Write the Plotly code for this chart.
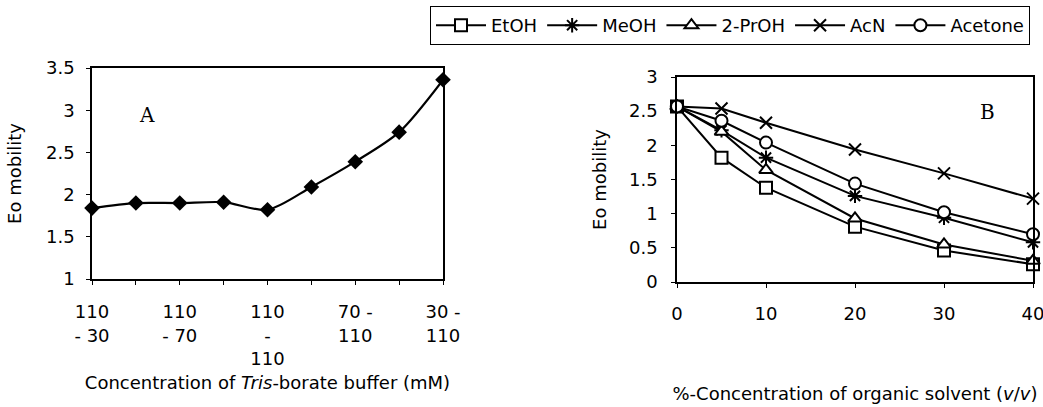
import plotly.graph_objects as go

# ---------------- data ----------------
# Panel A: Tris-borate buffer concentrations (mM)
buffer_categories = ["110 - 30", "110 - 50", "110 - 70", "110 - 90", "110 - 110",
                     "90 - 110", "70 - 110", "50 - 110", "30 - 110"]
buffer_ticktext = ["110<br>- 30", "", "110<br>- 70", "", "110<br>-<br>110",
                   "", "70 -<br>110", "", "30 -<br>110"]
eo_mobility_A = [1.84, 1.90, 1.90, 1.91, 1.82, 2.09, 2.39, 2.74, 3.36]

# Panel B: organic solvent concentration (% v/v)
solvent_pct = [0, 5, 10, 20, 30, 40]
solvent_ticks = [0, 10, 20, 30, 40]
etoh = [2.57, 1.82, 1.38, 0.81, 0.46, 0.26]
meoh = [2.57, 2.22, 1.82, 1.26, 0.94, 0.58]
proh = [2.57, 2.20, 1.64, 0.93, 0.55, 0.31]
acn = [2.57, 2.54, 2.33, 1.94, 1.59, 1.22]
acetone = [2.57, 2.36, 2.04, 1.44, 1.02, 0.70]

series_B = [
    ("EtOH", etoh, "square", "white"),
    ("MeOH", meoh, "asterisk-open", "black"),
    ("2-PrOH", proh, "triangle-up", "white"),
    ("AcN", acn, "x-thin-open", "black"),
    ("Acetone", acetone, "circle", "white"),
]

W, H = 1043, 407
FONT = "DejaVu Sans"
FS = 18

fig = go.Figure()

fig.add_trace(go.Scatter(
    x=buffer_categories, y=eo_mobility_A, mode="lines+markers",
    line=dict(color="black", width=2.2, shape="spline", smoothing=0.8),
    marker=dict(symbol="diamond", size=12, color="black"),
    xaxis="x", yaxis="y", showlegend=False, cliponaxis=False,
))

for name, vals, sym, fill in series_B:
    fig.add_trace(go.Scatter(
        x=solvent_pct, y=vals, mode="lines+markers", name=name,
        line=dict(color="black", width=2),
        marker=dict(symbol=sym, size=12, color=fill,
                    line=dict(color="black", width=2)),
        xaxis="x2", yaxis="y2", cliponaxis=False,
    ))

axis_common = dict(showline=True, linecolor="black", linewidth=1.5, mirror=True,
                   showgrid=False, zeroline=False, ticks="outside", ticklen=4,
                   tickcolor="black", tickwidth=1, automargin=False,
                   ticklabeloverflow="allow",
                   tickfont=dict(family=FONT, size=FS, color="black"))

fig.update_layout(
    width=W, height=H,
    margin=dict(l=0, r=0, t=0, b=0, autoexpand=False),
    paper_bgcolor="white", plot_bgcolor="white",
    font=dict(family=FONT, size=FS, color="black"),
    xaxis=dict(**axis_common, domain=[92 / W, 443 / W], anchor="y",
               type="category", range=[0, 8],
               tickmode="array", tickvals=buffer_categories, ticktext=buffer_ticktext,
               ticklabelstandoff=12,
               title=dict(text="Concentration of <i>Tris</i>-borate buffer (mM)",
                          font=dict(family=FONT, size=FS), standoff=8)),
    yaxis=dict(**axis_common, domain=[(H - 279) / H, (H - 68) / H], anchor="x",
               range=[1, 3.5], dtick=0.5, ticklabelstandoff=8,
               title=dict(text="Eo mobility", font=dict(family=FONT, size=FS), standoff=20)),
    xaxis2=dict(**axis_common, domain=[677 / W, 1033 / W], anchor="y2",
                range=[0, 40], tickmode="array", tickvals=solvent_ticks,
                ticklabelstandoff=11,
                title=dict(text="%-Concentration of organic solvent (<i>v</i>/<i>v</i>)",
                           font=dict(family=FONT, size=FS), standoff=64)),
    yaxis2=dict(**axis_common, domain=[(H - 282) / H, (H - 77) / H], anchor="x2",
                range=[0, 3], dtick=0.5, ticklabelstandoff=10,
                title=dict(text="Eo mobility", font=dict(family=FONT, size=FS), standoff=18)),
    legend=dict(orientation="h", x=430 / W, y=1 - 6 / H, xanchor="left", yanchor="top",
                bordercolor="black", borderwidth=1, bgcolor="white",
                font=dict(family=FONT, size=FS), itemwidth=50, tracegroupgap=0),
    annotations=[
        dict(text="A", x=147 / W, y=1 - 115 / H, xref="paper", yref="paper",
             xanchor="center", yanchor="middle",
             showarrow=False, font=dict(family="DejaVu Serif", size=20, color="black")),
        dict(text="B", x=987 / W, y=1 - 112 / H, xref="paper", yref="paper",
             xanchor="center", yanchor="middle",
             showarrow=False, font=dict(family="DejaVu Serif", size=20, color="black")),
    ],
)

fig.write_html("out.html")
